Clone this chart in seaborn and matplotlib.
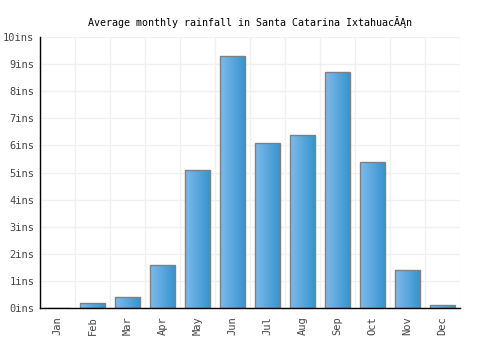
import matplotlib
matplotlib.use("Agg")
import matplotlib.pyplot as plt
import seaborn as sns
import pandas as pd
import numpy as np
from matplotlib.colors import LinearSegmentedColormap

months = ['Jan', 'Feb', 'Mar', 'Apr', 'May', 'Jun', 'Jul', 'Aug', 'Sep', 'Oct', 'Nov', 'Dec']
rain = [0, 0.2, 0.4, 1.6, 5.1, 9.3, 6.1, 6.4, 8.7, 5.4, 1.4, 0.1]
yticks = list(range(0, 11))
ylabels = [f'{v}ins' for v in yticks]

df = pd.DataFrame({'month': months, 'rain': rain})

sns.set_style('white')
plt.rcParams['font.family'] = ['DejaVu Sans Mono']

fig = plt.figure(figsize=(5, 3.5), dpi=100)
ax = fig.add_axes([0.08, 0.12, 0.84, 0.774])

sns.barplot(data=df, x='month', y='rain', ax=ax, width=0.7,
            color='#4da3dd', edgecolor='#808080', linewidth=1, zorder=3)

# gradient fill inside each bar
cmap = LinearSegmentedColormap.from_list('bars', ['#7dbbec', '#3894cf'])
grad = np.linspace(0, 1, 64).reshape(1, -1)
for p in ax.patches:
    x0, y0 = p.get_x(), p.get_y()
    w, h = p.get_width(), p.get_height()
    if h <= 0:
        continue
    im = ax.imshow(grad, cmap=cmap, aspect='auto', extent=[x0, x0 + w, y0, y0 + h],
                   zorder=3.5)
    im.set_clip_path(p)
    p.set_facecolor('none')
    p.set_zorder(4)

ax.set_xlim(-0.5, 11.5)
ax.set_ylim(0, 10)
ax.set_yticks(yticks)
ax.set_yticklabels(ylabels)
ax.set_xticks(np.arange(-0.5, 12, 1), minor=True)
ax.grid(True, which='minor', axis='x', color='#f0f0f0', linewidth=1, zorder=0)
ax.grid(True, which='major', axis='y', color='#f0f0f0', linewidth=1, zorder=0)
ax.tick_params(axis='x', which='both', length=0, rotation=90, labelsize=7.5, colors='#444444', pad=6)
ax.tick_params(axis='y', length=0, labelsize=7.5, colors='#444444', pad=4)
ax.set_xlabel('')
ax.set_ylabel('')
for s in ['top', 'right']:
    ax.spines[s].set_visible(False)
for s in ['left', 'bottom']:
    ax.spines[s].set_color('black')
    ax.spines[s].set_linewidth(1)
ax.spines['bottom'].set_zorder(5)

fig.suptitle('Average monthly rainfall in Santa Catarina IxtahuacĂĄn', fontsize=7.2,
             color='black', y=0.955)

fig.savefig('out.png', dpi=100)
